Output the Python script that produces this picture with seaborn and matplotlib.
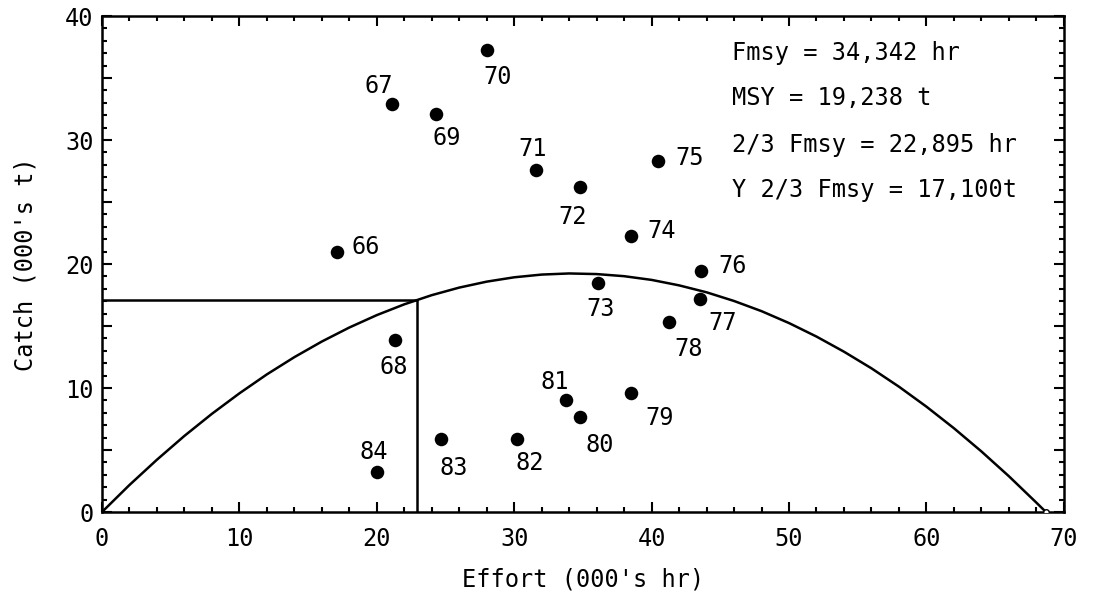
import matplotlib
matplotlib.use("Agg")
import matplotlib.pyplot as plt
import seaborn as sns
from matplotlib.ticker import MultipleLocator, FuncFormatter

# datos (esfuerzo en miles de horas, captura en miles de t)
years = [66, 67, 68, 69, 70, 71, 72, 73, 74, 75, 76, 77, 78, 79, 80, 81, 82, 83, 84]
effort = [17.1, 21.1, 21.3, 24.3, 28.0, 31.6, 34.8, 36.1, 38.5, 40.5,
          43.6, 43.5, 41.3, 38.5, 34.8, 33.8, 30.2, 24.7, 20.0]
catch = [21.0, 32.9, 13.9, 32.1, 37.3, 27.6, 26.2, 18.5, 22.3, 28.3,
         19.4, 17.2, 15.3, 9.6, 7.7, 9.0, 5.9, 5.9, 3.2]

# curva de produccion (leida cada 2 unidades)
curve_effort = [0, 2, 4, 6, 8, 10, 12, 14, 16, 18, 20, 22, 24, 26, 28, 30, 32, 34,
                36, 38, 40, 42, 44, 46, 48, 50, 52, 54, 56, 58, 60, 62, 64, 66, 68, 68.7]
curve_catch = [0, 2.18, 4.22, 6.14, 7.92, 9.57, 11.10, 12.49, 13.75, 14.88, 15.88,
               16.75, 17.49, 18.10, 18.58, 18.93, 19.15, 19.24, 19.19, 19.02, 18.72,
               18.28, 17.72, 17.02, 16.20, 15.24, 14.15, 12.93, 11.59, 10.11, 8.50,
               6.76, 4.89, 2.89, 0.76, 0]

f_23 = 22.895
y_23 = 17.1

info_lines = ["Fmsy = 34,342 hr",
              "MSY = 19,238 t",
              "2/3 Fmsy = 22,895 hr",
              "Y 2/3 Fmsy = 17,100t"]

# posicion de las etiquetas de cada anio (pixeles respecto al punto)
label_offsets = {66: (29, 7), 67: (-13, 21), 68: (-1, -25), 69: (11, -22),
                 70: (11, -25), 71: (-4, 23), 72: (-8, -27), 73: (3, -24),
                 74: (31, 7), 75: (31, 6), 76: (32, 8), 77: (23, -22),
                 78: (19, -24), 79: (29, -23), 80: (20, -26), 81: (-12, 21),
                 82: (13, -22), 83: (12, -27), 84: (-3, 23)}

sns.set_style("ticks")
plt.rcParams['font.family'] = ['DejaVu Sans Mono', 'DejaVu Sans']
plt.rcParams['font.size'] = 17
plt.rcParams['text.color'] = 'black'
plt.rcParams['axes.labelcolor'] = 'black'
plt.rcParams['xtick.color'] = 'black'
plt.rcParams['ytick.color'] = 'black'

fig = plt.figure(figsize=(10.93, 5.94), dpi=100)
ax = fig.add_axes([0.0933, 0.138, 0.880, 0.835])

sns.lineplot(x=curve_effort, y=curve_catch, sort=False, estimator=None,
             color='black', lw=1.8, ax=ax)
ax.plot([curve_effort[-1]], [curve_catch[-1]], marker='o', ms=4,
        mfc='white', mec='black', mew=1, zorder=3)

# lineas de 2/3 Fmsy
ax.plot([0, f_23], [y_23, y_23], color='black', lw=1.8)
ax.plot([f_23, f_23], [0, y_23], color='black', lw=1.8)

sns.scatterplot(x=effort, y=catch, color='black', s=95, linewidth=0,
                ax=ax, zorder=4)

for yr, xv, yv in zip(years, effort, catch):
    ax.annotate(str(yr), (xv, yv), xytext=label_offsets[yr],
                textcoords='offset pixels', ha='center', va='center_baseline',
                fontsize=17, color='black')

text_y = [0.931, 0.839, 0.746, 0.655]
for line, ty in zip(info_lines, text_y):
    ax.text(0.6546, ty, line, transform=ax.transAxes, ha='left',
            va='center_baseline', fontsize=17, color='black')

ax.set_xlim(0, 70)
ax.set_ylim(0, 40)
ax.xaxis.set_major_locator(MultipleLocator(10))
ax.xaxis.set_minor_locator(MultipleLocator(2))
ax.yaxis.set_major_locator(MultipleLocator(5))
ax.yaxis.set_minor_locator(MultipleLocator(1))
ax.yaxis.set_major_formatter(FuncFormatter(lambda v, p: f"{v:.0f}" if v % 10 == 0 else ""))

ax.tick_params(which='both', direction='in', top=True, right=True,
               width=1.5, color='black', labelsize=17, labelcolor='black')
ax.tick_params(which='major', length=7)
ax.tick_params(which='minor', length=3.5)
ax.tick_params(axis='x', which='major', pad=10.5)
ax.tick_params(axis='y', which='major', pad=6)

for sp in ax.spines.values():
    sp.set_linewidth(1.8)
    sp.set_color('black')

ax.set_xlabel("Effort (000's hr)", fontsize=17, labelpad=12)
ax.set_ylabel("Catch (000's t)", fontsize=17, labelpad=20)

plt.savefig("out.png", dpi=100)
